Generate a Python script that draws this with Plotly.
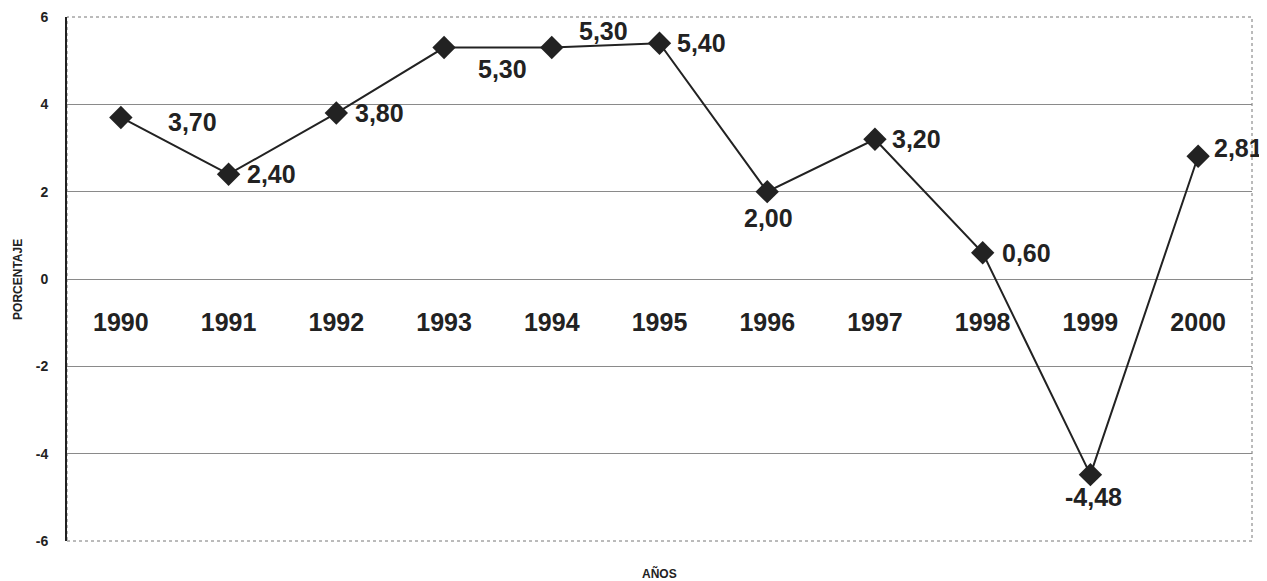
import plotly.graph_objects as go

years = ["1990", "1991", "1992", "1993", "1994", "1995", "1996", "1997", "1998", "1999", "2000"]
values = [3.70, 2.40, 3.80, 5.30, 5.30, 5.40, 2.00, 3.20, 0.60, -4.48, 2.81]
value_labels = ["3,70", "2,40", "3,80", "5,30", "5,30", "5,40", "2,00", "3,20", "0,60", "-4,48", "2,81"]
y_ticks = [-6, -4, -2, 0, 2, 4, 6]
y_tick_labels = ["-6", "-4", "-2", "0", "2", "4", "6"]

# label offsets (pixels) relative to each marker: (xshift, yshift)
label_offsets = [(72, -5), (43, 0), (43, 0), (58, -21), (52, 17), (42, 0),
                 (1, -26), (42, 0), (44, 0), (3, -22), (40, 8)]

FONT = "Liberation Sans"
DARK = "#222222"

fig = go.Figure()
fig.add_trace(go.Scatter(
    x=years, y=values, mode="lines+markers",
    line=dict(color=DARK, width=2),
    marker=dict(symbol="diamond", size=18, color=DARK),
    hoverinfo="skip", showlegend=False,
))

for i, (v, lab, (dx, dy)) in enumerate(zip(values, value_labels, label_offsets)):
    fig.add_annotation(x=i, y=v, xref="x", yref="y", text=lab,
                       showarrow=False, xshift=dx, yshift=dy,
                       font=dict(family=FONT, size=25, color=DARK, weight="bold"))

fig.add_annotation(x=0.5, y=-0.080, xref="paper", yref="paper", text="AÑOS",
                   showarrow=False, font=dict(family=FONT, size=12, color=DARK, weight="bold"))
fig.add_annotation(x=-0.049, y=0.5, xref="paper", yref="paper", text="PORCENTAJE",
                   textangle=-90, showarrow=False,
                   font=dict(family=FONT, size=12, color=DARK, weight="bold"))

fig.update_layout(
    width=1267, height=581,
    margin=dict(l=59, r=23, t=9, b=48),
    paper_bgcolor="white", plot_bgcolor="white",
    xaxis=dict(
        type="category", range=[-0.5, 10.5], anchor="free", position=0.5,
        automargin=False,
        showgrid=False, showline=False, zeroline=False,
        tickfont=dict(family=FONT, size=25, color=DARK, weight="bold"),
        ticks="", ticklabelstandoff=26,
    ),
    yaxis=dict(
        range=[-6, 6], tickvals=y_ticks, ticktext=y_tick_labels,
        automargin=False,
        showgrid=True, gridcolor="#8a8a8a", gridwidth=1,
        zeroline=False,
        showline=True, linecolor=DARK, linewidth=2,
        tickfont=dict(family=FONT, size=14, color=DARK, weight="bold"),
        ticks="", ticklabelstandoff=14,
    ),
    shapes=[
        dict(type="rect", xref="paper", yref="paper", x0=0, x1=1, y0=0, y1=1,
             line=dict(color="#777777", width=1, dash="dot"), layer="below"),
    ],
)

fig.write_html("out.html")
